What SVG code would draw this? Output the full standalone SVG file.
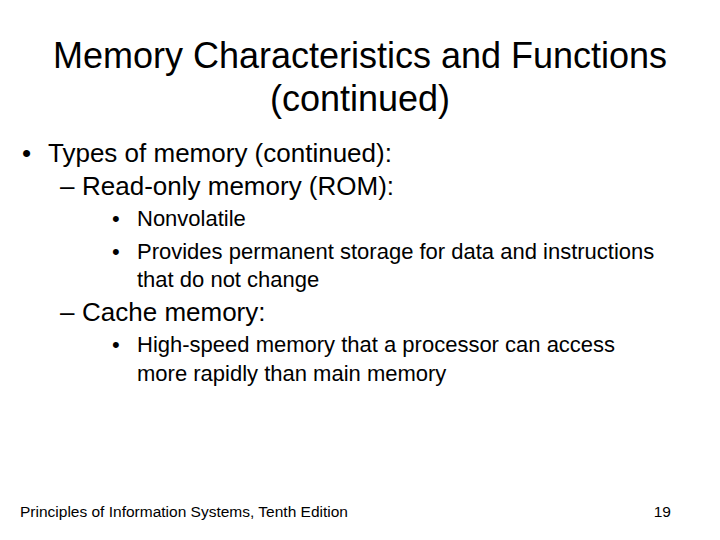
<svg xmlns="http://www.w3.org/2000/svg" width="720" height="540" viewBox="0 0 720 540">
<style>
text{font-family:"Liberation Sans",Arial,sans-serif;fill:#000}
.t{font-size:36px;text-anchor:middle}
.l1{font-size:26px}
.l2{font-size:26px}
.l3{font-size:22px}
.f{font-size:15.5px}
</style>
<rect width="720" height="540" fill="#fff"/>
<g id="title">
<text class="t" x="360" y="68">Memory Characteristics and Functions</text>
<text class="t" x="360" y="111">(continued)</text>
</g>
<g id="body">
<text class="l1" x="22" y="162">•</text>
<text class="l1" x="48" y="162">Types of memory (continued):</text>
<text class="l2" x="60" y="195">–</text>
<text class="l2" x="82" y="195">Read-only memory (ROM):</text>
<text class="l3" x="112" y="226">•</text>
<text class="l3" x="137" y="226">Nonvolatile</text>
<text class="l3" x="112" y="259">•</text>
<text class="l3" x="137" y="259">Provides permanent storage for data and instructions</text>
<text class="l3" x="137" y="287">that do not change</text>
<text class="l2" x="60" y="321">–</text>
<text class="l2" x="82" y="321">Cache memory:</text>
<text class="l3" x="112" y="352">•</text>
<text class="l3" x="137" y="352">High-speed memory that a processor can access</text>
<text class="l3" x="137" y="381">more rapidly than main memory</text>
</g>
<g id="footer">
<text class="f" x="20" y="517">Principles of Information Systems, Tenth Edition</text>
<text class="f" x="671" y="517" text-anchor="end">19</text>
</g>
</svg>
